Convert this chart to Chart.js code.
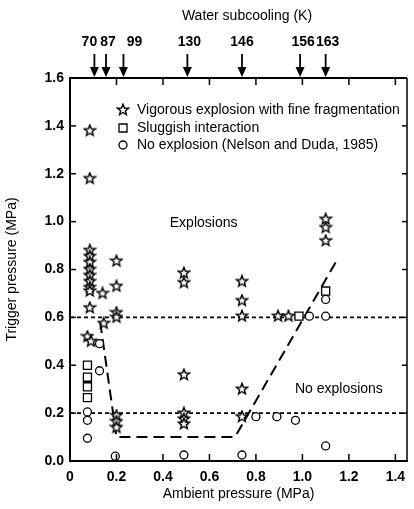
<!DOCTYPE html>
<html>
<head>
<meta charset="utf-8">
<script src="https://cdn.jsdelivr.net/npm/chart.js@4.4.1/dist/chart.umd.min.js"></script>
<style>
  html, body { margin: 0; padding: 0; background: #fff; }
</style>
</head>
<body>
<canvas id="chart" width="414" height="509"></canvas>
<script>
// ambient pressure (MPa) vs trigger pressure (MPa)
const vigorous = [
  [0.085, 1.38], [0.085, 1.18],
  [0.085, 0.88], [0.085, 0.855], [0.085, 0.83], [0.085, 0.80], [0.085, 0.775],
  [0.085, 0.75], [0.085, 0.725], [0.085, 0.71], [0.085, 0.64], [0.075, 0.52], [0.09, 0.50],
  [0.14, 0.70], [0.145, 0.575],
  [0.20, 0.835], [0.20, 0.73], [0.20, 0.62], [0.20, 0.60], [0.20, 0.19], [0.20, 0.165], [0.20, 0.14],
  [0.49, 0.785], [0.49, 0.745], [0.49, 0.36], [0.49, 0.20], [0.49, 0.175], [0.49, 0.155],
  [0.74, 0.75], [0.74, 0.67], [0.74, 0.605], [0.74, 0.30], [0.74, 0.185],
  [0.895, 0.605], [0.94, 0.605],
  [1.10, 1.01], [1.10, 0.975], [1.10, 0.92]
];
const sluggish = [
  [0.075, 0.40], [0.075, 0.35], [0.075, 0.31], [0.075, 0.265],
  [0.985, 0.605], [1.10, 0.71]
];
const noExplosion = [
  [0.127, 0.49], [0.127, 0.377], [0.075, 0.205], [0.075, 0.17], [0.075, 0.095],
  [0.195, 0.02], [0.49, 0.025], [0.74, 0.025],
  [0.80, 0.185], [0.89, 0.185], [0.97, 0.17],
  [1.03, 0.605], [1.10, 0.605], [1.10, 0.675], [1.10, 0.063]
];
const boundary = [[0.13, 0.58], [0.20, 0.10], [0.71, 0.10], [1.155, 0.85]];
const dottedLevels = [0.6, 0.2];

const xTickValues = [0, 0.2, 0.4, 0.6, 0.8, 1.0, 1.2, 1.4];
const yTickValues = [0, 0.2, 0.4, 0.6, 0.8, 1.0, 1.2, 1.4, 1.6];

const subcoolingK = ['70', '87', '99', '130', '146', '156', '163'];
const subcoolingAt = [0.105, 0.155, 0.23, 0.505, 0.74, 0.99, 1.10];

const legendLabels = [
  'Vigorous explosion with fine fragmentation',
  'Sluggish interaction',
  'No explosion (Nelson and Duda, 1985)'
];
const regionLabels = [
  { text: 'Explosions', x: 0.575, y: 0.995 },
  { text: 'No explosions', x: 1.157, y: 0.30 }
];

const FONT = '"Liberation Sans", Arial, sans-serif';
const toPts = arr => arr.map(p => ({ x: p[0], y: p[1] }));

// outlined 5-point star used as point style
function makeStar() {
  const c = document.createElement('canvas');
  c.width = 14; c.height = 14;
  const g = c.getContext('2d');
  g.beginPath();
  for (let i = 0; i < 10; i++) {
    const r = i % 2 ? 2.5 : 5.8;
    const a = -Math.PI / 2 + i * Math.PI / 5;
    g.lineTo(7 + r * Math.cos(a), 7 + r * Math.sin(a));
  }
  g.closePath();
  g.fillStyle = '#fff';
  g.fill();
  g.lineWidth = 1.4;
  g.strokeStyle = '#000';
  g.stroke();
  return c;
}
const starImg = makeStar();

const lineSets = dottedLevels.map(v => ({
  type: 'line',
  data: [{ x: 0, y: v }, { x: 1.45, y: v }],
  borderColor: '#000',
  borderWidth: 1.6,
  borderDash: [4, 3],
  pointRadius: 0,
  order: 2
}));

const decor = {
  id: 'decor',
  afterDraw(chart) {
    const ctx = chart.ctx;
    const xs = chart.scales.x, ys = chart.scales.y;
    const a = chart.chartArea;
    ctx.save();
    ctx.strokeStyle = '#000';
    ctx.fillStyle = '#000';

    // top and right frame
    ctx.lineWidth = 2;
    ctx.beginPath();
    ctx.moveTo(a.left, a.top); ctx.lineTo(a.right, a.top);
    ctx.stroke();
    ctx.lineWidth = 1.5;
    ctx.beginPath();
    ctx.moveTo(a.right, a.top); ctx.lineTo(a.right, a.bottom);
    ctx.stroke();

    // inward tick marks
    ctx.lineWidth = 1.5;
    xTickValues.forEach(v => {
      const px = xs.getPixelForValue(v);
      if (v > 0) {
        ctx.beginPath(); ctx.moveTo(px, a.bottom); ctx.lineTo(px, a.bottom - 7); ctx.stroke();
        ctx.beginPath(); ctx.moveTo(px, a.top); ctx.lineTo(px, a.top + 7); ctx.stroke();
      }
    });
    yTickValues.forEach(v => {
      const py = ys.getPixelForValue(v);
      if (v > 0 && v < 1.6) {
        ctx.beginPath(); ctx.moveTo(a.left, py); ctx.lineTo(a.left + 6, py); ctx.stroke();
        ctx.beginPath(); ctx.moveTo(a.right, py); ctx.lineTo(a.right - 5, py); ctx.stroke();
      }
    });

    // water subcooling arrows on the top axis
    ctx.textAlign = 'center';
    ctx.textBaseline = 'middle';
    ctx.font = '14px ' + FONT;
    ctx.fillText('Water subcooling (K)', 247, 16);
    ctx.font = 'bold 14px ' + FONT;
    const nudge = [-5, 2, 11, 2, 0, 3, 2];
    subcoolingAt.forEach((v, i) => {
      const px = xs.getPixelForValue(v);
      ctx.fillText(subcoolingK[i], px + nudge[i], 42);
      ctx.lineWidth = 1.8;
      ctx.beginPath(); ctx.moveTo(px, 54); ctx.lineTo(px, a.top - 6); ctx.stroke();
      ctx.beginPath();
      ctx.moveTo(px - 4.5, a.top - 11);
      ctx.lineTo(px + 4.5, a.top - 11);
      ctx.lineTo(px, a.top - 1);
      ctx.closePath();
      ctx.fill();
    });

    // region labels
    ctx.font = '14px ' + FONT;
    regionLabels.forEach(r => {
      ctx.fillText(r.text, xs.getPixelForValue(r.x), ys.getPixelForValue(r.y));
    });

    // legend
    const lx = 123, rows = [110, 128, 145];
    ctx.textAlign = 'left';
    ctx.drawImage(starImg, lx - 7, rows[0] - 7);
    ctx.lineWidth = 1.3;
    ctx.fillStyle = '#fff';
    ctx.beginPath(); ctx.rect(lx - 4, rows[1] - 4, 8, 8); ctx.fill(); ctx.stroke();
    ctx.beginPath(); ctx.arc(lx, rows[2], 4, 0, Math.PI * 2); ctx.fill(); ctx.stroke();
    ctx.fillStyle = '#000';
    legendLabels.forEach((t, i) => ctx.fillText(t, 137, rows[i]));
    ctx.restore();
  }
};

new Chart(document.getElementById('chart'), {
  type: 'scatter',
  data: {
    datasets: [
      {
        label: legendLabels[0],
        data: toPts(vigorous),
        pointStyle: starImg,
        order: 0
      },
      {
        label: legendLabels[1],
        data: toPts(sluggish),
        pointStyle: 'rect',
        pointRadius: 5.7,
        backgroundColor: '#fff',
        borderColor: '#000',
        borderWidth: 1.3,
        order: 0
      },
      {
        label: legendLabels[2],
        data: toPts(noExplosion),
        pointStyle: 'circle',
        pointRadius: 4,
        backgroundColor: '#fff',
        borderColor: '#000',
        borderWidth: 1.3,
        order: 0
      },
      ...lineSets,
      {
        type: 'line',
        data: toPts(boundary),
        borderColor: '#000',
        borderWidth: 2,
        borderDash: [11, 6],
        pointRadius: 0,
        order: 1
      }
    ]
  },
  options: {
    responsive: false,
    animation: false,
    layout: { padding: { left: 0, top: 78, right: 1, bottom: 0 } },
    plugins: { legend: { display: false }, tooltip: { enabled: false } },
    scales: {
      x: {
        type: 'linear',
        min: 0,
        max: 1.45,
        afterBuildTicks: s => { s.ticks = xTickValues.map(v => ({ value: v })); },
        afterFit: s => { s.height = 48; },
        grid: { display: false, drawTicks: false },
        border: { display: true, width: 2, color: '#000' },
        ticks: {
          color: '#000',
          font: { family: FONT, size: 14, weight: 'bold' },
          padding: 8,
          maxRotation: 0,
          callback: v => (v === 0 ? '0' : v.toFixed(1))
        },
        title: {
          display: true,
          text: 'Ambient pressure (MPa)',
          color: '#000',
          font: { family: FONT, size: 14 },
          padding: { top: 0, bottom: 6 }
        }
      },
      y: {
        type: 'linear',
        min: 0,
        max: 1.6,
        afterBuildTicks: s => { s.ticks = yTickValues.map(v => ({ value: v })); },
        afterFit: s => { s.width = 70; },
        grid: { display: false, drawTicks: false },
        border: { display: true, width: 2, color: '#000' },
        ticks: {
          color: '#000',
          font: { family: FONT, size: 14, weight: 'bold' },
          padding: 6,
          callback: v => v.toFixed(1)
        },
        title: {
          display: true,
          text: 'Trigger pressure (MPa)',
          color: '#000',
          font: { family: FONT, size: 14 },
          padding: { top: 4, bottom: 0 }
        }
      }
    }
  },
  plugins: [decor]
});
</script>
</body>
</html>
